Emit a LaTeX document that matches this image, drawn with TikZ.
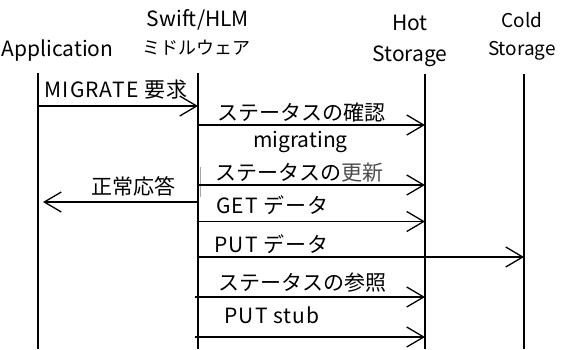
\documentclass[tikz,border=0pt]{standalone}
\usepackage{fontspec}
\setmainfont{Noto Sans CJK JP}
\newfontfamily\spacedfont[LetterSpace=5]{Noto Sans CJK JP}
\usetikzlibrary{arrows.meta}
\begin{document}
\begin{tikzpicture}[x=1pt,y=-1pt,
  lifeline/.style={line width=2pt},
  msg/.style={line width=1.3pt,-{Straight Barb[length=17pt,width=20pt,line width=1.3pt]}},
  head/.style={inner sep=0pt,anchor=base,font=\fontsize{21}{24}\selectfont},
  smallhead/.style={inner sep=0pt,anchor=base,font=\fontsize{19}{22}\selectfont},
  kanahead/.style={inner sep=0pt,anchor=base,font=\fontsize{18}{22}\selectfont},
  lbl/.style={inner sep=0pt,anchor=base,font=\spacedfont\fontsize{21}{24}\selectfont},
  plainlbl/.style={inner sep=0pt,anchor=base,font=\fontsize{21}{24}\selectfont},
  jlbl/.style={inner sep=0pt,anchor=base,font=\fontsize{21}{24}\selectfont},
]
\useasboundingbox (0,0) rectangle (561,349);

% participant headings
\node[head] (appName) at (57.5,56.7) {Application};
\node[head] (swName) at (198,26) {Swift/HLM};
\node[kanahead] (swSub) at (196.5,54) {ミドルウェア};
\node[head] (hotName) at (410,30.7) {Hot};
\node[head] (hotSub) at (410,61.7) {Storage};
\node[smallhead] (coldName) at (522,27.7) {Cold};
\node[smallhead] (coldSub) at (522,55) {Storage};

% lifelines
\coordinate (appTop) at (38,73);   \coordinate (appBot) at (38,349);
\coordinate (swTop) at (198,73);   \coordinate (swBot) at (198,349);
\coordinate (hotTop) at (425,74);  \coordinate (hotBot) at (425,349);
\coordinate (coldTop) at (524,74); \coordinate (coldBot) at (524,349);
\draw[lifeline] (appTop) -- (appBot);
\draw[lifeline] (swTop) -- (swBot);
\draw[lifeline] (hotTop) -- (hotBot);
\draw[lifeline] (coldTop) -- (coldBot);

% message end points
\coordinate (m1a) at (38,106);  \coordinate (m1b) at (198,106);
\coordinate (m2a) at (198,125); \coordinate (m2b) at (425,125);
\coordinate (m3a) at (199,185); \coordinate (m3b) at (425,185);
\coordinate (m4a) at (198,202); \coordinate (m4b) at (43,202);
\coordinate (m5a) at (198,221.5); \coordinate (m5b) at (425,221.5);
\coordinate (m6a) at (198,257); \coordinate (m6b) at (524,257);
\coordinate (m7a) at (195,297); \coordinate (m7b) at (425,297);
\coordinate (m8a) at (195,337); \coordinate (m8b) at (425,337);

% faint mark beside the middleware lifeline
\coordinate (markTop) at (200.5,167); \coordinate (markBot) at (200.5,197);
\draw[black!35,line width=0.8pt] (markTop) -- (markBot);

% messages
\draw[msg] (m1a) -- (m1b);
\draw[msg] (m2a) -- (m2b);
\draw[msg] (m3a) -- (m3b);
\draw[msg] (m4a) -- (m4b);
\draw[msg] (m5a) -- (m5b);
\draw[msg] (m6a) -- (m6b);
\draw[msg] (m7a) -- (m7b);
\draw[msg] (m8a) -- (m8b);

% message labels
\node[lbl] (l1) at (116,97) {MIGRATE 要求};
\node[jlbl] (l2) at (301.5,120.5) {ステータスの確認};
\node[plainlbl] (l3) at (300.5,147) {migrating};
\node[jlbl] (l4) at (299,180.5) {ステータスの{\color{black!70}更新}};
\node[jlbl] (l5) at (133.5,194.5) {正常応答};
\node[lbl] (l6) at (272.5,213) {GET データ};
\node[lbl] (l7) at (271.5,252) {PUT データ};
\node[jlbl] (l8) at (302.5,290.5) {ステータスの参照};
\node[lbl] (l9) at (272,323) {PUT stub};
\end{tikzpicture}
\end{document}
